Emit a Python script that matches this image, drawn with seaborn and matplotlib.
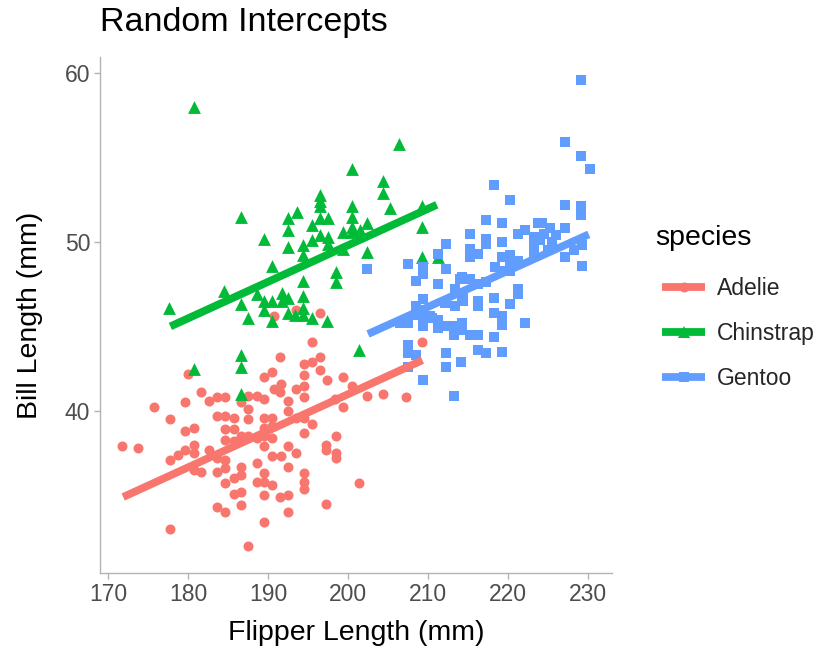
import matplotlib
matplotlib.use("Agg")
import matplotlib.pyplot as plt
import seaborn as sns
import pandas as pd
from matplotlib.lines import Line2D

# ---------------- data ----------------
species_names = ["Adelie", "Chinstrap", "Gentoo"]
species_colors = ["#F8766D", "#00BA38", "#619CFF"]

adelie_flipper = [
    180.0, 181.6, 183.6, 182.6, 175.7, 179.6, 183.6, 177.7, 180.7, 179.6, 184.6,
    171.7, 173.7, 180.7, 179.6, 180.7, 178.7, 177.7, 182.6, 183.6, 180.7, 181.6,
    183.6, 183.6, 184.6, 177.7,
    195.5, 191.5, 196.5, 194.5, 195.5, 196.5, 197.4, 190.5, 189.5, 194.5, 191.6,
    190.7, 193.5, 194.5, 187.5, 188.6, 189.5, 191.5, 192.5, 194.5, 186.6, 187.5,
    185.7, 187.5, 189.5, 190.5, 192.5, 193.5, 194.5, 195.5, 185.7, 189.5, 190.5,
    194.5, 187.5, 188.6, 189.5, 190.5, 184.6, 185.7, 186.6, 189.5, 197.3, 197.3,
    190.5, 191.6, 192.5, 193.5, 192.5, 188.6, 184.6, 184.6, 186.6, 186.6, 185.7,
    189.5, 189.5, 190.5, 188.6, 194.5, 194.5, 194.5, 184.6, 185.7, 186.6, 189.5,
    191.5, 192.5, 186.6, 192.5, 189.5, 187.5, 197.3, 184.6, 184.6,
    196.5, 209.3, 199.4, 200.5, 198.4, 199.4, 202.4, 204.4, 207.3, 198.5, 198.5,
    198.5, 201.4, 190.7, 193.5,
]
adelie_bill = [
    42.2, 41.1, 40.8, 40.6, 40.2, 40.5, 39.7, 39.5, 39.0, 38.8, 38.9,
    37.9, 37.8, 38.0, 37.7, 37.5, 37.4, 37.1, 37.7, 37.2, 36.5, 36.4,
    36.4, 34.3, 34.0, 33.0,
    44.1, 43.2, 43.2, 42.8, 42.9, 42.4, 41.8, 42.3, 42.0, 42.1, 41.6,
    41.3, 41.3, 41.5, 40.9, 40.9, 40.7, 41.1, 40.6, 40.8, 40.5, 40.1,
    39.6, 39.5, 39.6, 39.6, 40.0, 39.6, 39.6, 39.2, 38.9, 39.0, 39.1,
    38.7, 38.5, 38.4, 38.5, 38.4, 38.3, 38.2, 38.5, 37.9, 38.0, 37.7,
    37.3, 37.3, 37.9, 37.5, 36.7, 36.9, 37.1, 36.6, 36.7, 36.2, 36.0,
    36.3, 35.8, 35.6, 35.8, 36.3, 35.8, 35.4, 35.7, 35.1, 35.2, 35.0,
    34.9, 35.0, 34.4, 34.0, 33.4, 32.0, 34.5, 39.7, 40.8,
    45.8, 44.1, 42.0, 41.5, 40.7, 40.2, 40.9, 41.0, 40.8, 38.5, 37.5,
    37.2, 35.7, 45.6, 46.0,
]

chinstrap_flipper = [
    180.7, 186.6, 189.5, 190.5, 177.6, 184.5, 186.6, 188.6, 189.5, 190.5, 189.5,
    187.5, 190.5, 186.6, 186.6, 180.7, 186.6, 191.8,
    206.4, 200.5, 204.4, 204.4, 196.5, 196.5, 196.5, 193.6, 192.5, 200.5, 200.5,
    196.5, 197.5, 205.3, 195.5, 200.5, 202.4, 192.5, 199.4, 200.5, 201.5, 196.5,
    197.5, 195.5, 209.3, 209.3, 192.5, 194.4, 197.5, 194.4, 199.4, 202.4, 209.3,
    211.3, 198.5, 198.5, 194.4, 194.4, 192.5, 191.7, 194.4, 193.4, 192.5, 194.4,
    195.5, 197.4, 201.4,
]
chinstrap_bill = [
    58.0, 51.5, 50.2, 48.6, 46.1, 47.1, 46.3, 46.9, 46.5, 46.5, 46.0,
    45.5, 45.3, 43.3, 42.6, 42.5, 41.0, 47.0,
    55.8, 54.3, 53.6, 52.9, 52.8, 52.4, 52.1, 51.8, 51.4, 52.1, 51.5,
    51.4, 51.4, 52.0, 51.0, 50.9, 51.1, 50.7, 50.6, 50.6, 50.7, 50.4,
    50.3, 50.1, 52.1, 50.9, 49.7, 49.8, 49.9, 49.2, 49.6, 49.4, 49.1,
    49.1, 48.2, 47.6, 47.7, 46.8, 46.7, 46.5, 46.1, 45.7, 45.8, 45.7,
    45.5, 45.3, 43.6,
]

gentoo_flipper = [
    202.4, 212.3, 207.5, 209.4, 209.4, 212.3, 208.5, 211.3, 214.2, 213.4, 214.2,
    209.4, 208.5, 212.1, 213.4, 208.5, 209.4, 210.5, 211.3, 206.5, 207.5, 209.4,
    211.3, 212.3, 213.3, 214.2, 214.2, 213.3, 207.5, 207.5, 208.5, 207.5, 212.3,
    212.3, 214.1, 209.4, 213.3, 210.3, 209.4,
    218.3, 220.3, 217.3, 219.3, 215.3, 217.3, 217.3, 219.3, 221.3, 222.1, 223.2,
    223.2, 223.2, 223.8, 215.3, 215.3, 216.3, 219.3, 220.3, 221.3, 218.4, 220.3,
    220.3, 219.3, 214.0, 215.3, 217.3, 216.3, 221.3, 221.3, 214.4, 214.4, 216.3,
    216.3, 218.3, 220.3, 218.3, 219.3, 219.3, 222.1, 215.3, 216.3, 218.3, 216.3,
    217.3, 219.3,
    229.1, 227.1, 229.1, 230.2, 227.1, 229.1, 229.1, 224.2, 227.1, 225.3, 224.0,
    228.2, 229.2, 227.1, 229.2,
    211.3, 224.5, 225.0, 225.5, 226.0,
]
gentoo_bill = [
    48.4, 49.9, 48.7, 48.5, 48.1, 48.4, 47.7, 47.5, 47.9, 47.2, 46.6,
    46.6, 46.2, 46.4, 46.2, 45.7, 45.5, 45.5, 45.4, 45.2, 45.2, 45.0,
    44.9, 45.0, 45.0, 45.2, 44.8, 44.5, 43.9, 43.4, 43.3, 42.6, 43.4,
    42.6, 42.9, 41.8, 40.9, 45.6, 46.0,
    53.4, 52.5, 51.3, 51.1, 50.5, 50.2, 49.9, 50.0, 50.5, 50.7, 50.3,
    49.8, 49.3, 51.1, 49.6, 49.1, 49.3, 49.1, 49.2, 48.9, 48.5, 48.7,
    48.3, 48.3, 47.8, 47.8, 47.6, 47.5, 47.2, 46.9, 46.9, 46.5, 46.5,
    46.2, 46.7, 46.3, 45.8, 45.6, 45.1, 45.2, 44.5, 44.5, 44.4, 43.6,
    43.4, 43.5,
    59.6, 55.9, 55.1, 54.3, 52.2, 52.1, 51.6, 51.1, 50.8, 50.8, 50.1,
    49.5, 49.8, 49.1, 48.6,
    49.3, 50.5, 49.5, 50.0, 50.4,
]

# fitted random-intercept lines (end points)
adelie_line_flipper = [171.9, 209.3]
adelie_line_bill = [34.9, 43.0]
chinstrap_line_flipper = [177.8, 211.1]
chinstrap_line_bill = [45.0, 52.2]
gentoo_line_flipper = [202.5, 230.1]
gentoo_line_bill = [44.55, 50.45]

# ---------------- build tables ----------------
pts = pd.concat([
    pd.DataFrame({"flipper": adelie_flipper, "bill": adelie_bill, "species": "Adelie"}),
    pd.DataFrame({"flipper": chinstrap_flipper, "bill": chinstrap_bill, "species": "Chinstrap"}),
    pd.DataFrame({"flipper": gentoo_flipper, "bill": gentoo_bill, "species": "Gentoo"}),
], ignore_index=True)
lines = pd.concat([
    pd.DataFrame({"flipper": adelie_line_flipper, "bill": adelie_line_bill, "species": "Adelie"}),
    pd.DataFrame({"flipper": chinstrap_line_flipper, "bill": chinstrap_line_bill, "species": "Chinstrap"}),
    pd.DataFrame({"flipper": gentoo_line_flipper, "bill": gentoo_line_bill, "species": "Gentoo"}),
], ignore_index=True)

# ---------------- style ----------------
sns.set_style("ticks")
plt.rcParams["font.family"] = ["Liberation Sans", "DejaVu Sans"]
plt.rcParams["lines.solid_capstyle"] = "butt"

palette = dict(zip(species_names, species_colors))
markers = {"Adelie": "o", "Chinstrap": "^", "Gentoo": "s"}
msizes = {"Adelie": 52, "Chinstrap": 85, "Gentoo": 62}

W, H = 822, 653
fig = plt.figure(figsize=(W / 100, H / 100), dpi=100)
ax = fig.add_axes([100 / W, 1 - 573 / H, 512 / W, 516 / H])

for sp in species_names:
    sns.scatterplot(data=pts[pts.species == sp], x="flipper", y="bill",
                    color=palette[sp], marker=markers[sp], s=msizes[sp],
                    linewidth=0, ax=ax, legend=False, zorder=2)

sns.lineplot(data=lines, x="flipper", y="bill", hue="species", palette=palette,
             linewidth=5.6, ax=ax, legend=False, zorder=3, estimator=None, sort=False)

ax.set_xlim(169.0, 233.0)
ax.set_ylim(30.4, 60.95)
ax.set_xticks([170, 180, 190, 200, 210, 220, 230])
ax.set_yticks([40, 50, 60])

axis_grey = "#B3B3B3"
for side in ["top", "right"]:
    ax.spines[side].set_visible(False)
for side in ["left", "bottom"]:
    ax.spines[side].set_color(axis_grey)
    ax.spines[side].set_linewidth(1.0)
ax.tick_params(axis="both", colors=axis_grey, labelcolor="#4D4D4D",
               labelsize=16.5, length=4, width=1.0, pad=3)

ax.set_xlabel("Flipper Length (mm)", fontsize=20.5, color="black", va="center")
ax.set_ylabel("Bill Length (mm)", fontsize=20.5, color="black", va="center")
ax.xaxis.set_label_coords(0.5, (573 - 633) / 516)
ax.yaxis.set_label_coords((30 - 100) / 512, 0.5)

fig.text(100 / W, 1 - 22 / H, "Random Intercepts", fontsize=24.5,
         ha="left", va="center", color="black")

# legend: title as its own text, keys indented like ggplot
fig.text(655 / W, 1 - 238 / H, "species", fontsize=20.5,
         ha="left", va="center", color="black")
handles = [Line2D([0], [0], color=palette[sp], lw=5.6, marker=markers[sp],
                  markersize=(msizes[sp]) ** 0.5, markeredgewidth=0)
           for sp in species_names]
leg = fig.legend(handles, species_names, loc="center left",
                 bbox_to_anchor=(662 / W, 1 - 333.5 / H), frameon=False,
                 borderpad=0, borderaxespad=0,
                 fontsize=16.5, handlelength=1.88,
                 labelspacing=0.95, handletextpad=0.52)

fig.savefig("out.png", dpi=100)
